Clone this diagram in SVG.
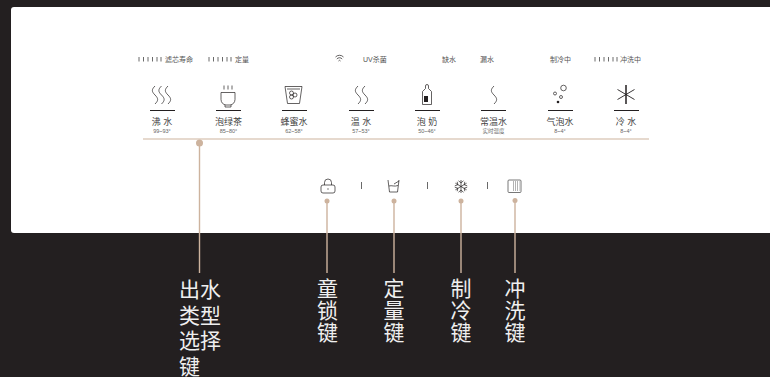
<svg xmlns="http://www.w3.org/2000/svg" width="770" height="377" viewBox="0 0 770 377">
<style>
text{font-family:"Liberation Sans","Noto Sans CJK SC",sans-serif;fill:#231f20}
.st{font-size:7px;fill:#555}
.nm{font-size:9px;text-anchor:middle;fill:#444}
.tp{font-size:5.500px;text-anchor:middle;fill:#666}
.big{font-size:21px;fill:#f2f2f2;font-family:"Noto Sans CJK SC",sans-serif;opacity:.99}
.mid{text-anchor:middle}
.ln{fill:none;stroke:#231f20;stroke-width:.7}
.ul{stroke:#231f20;stroke-width:1}
.tick{stroke:#444;stroke-width:.8}
.c{stroke:#cdb39e;stroke-width:1.400;fill:none}
.h{stroke:#cdb39e;stroke-width:1.100;fill:none}
.d{fill:#cdb39e}
</style>
<defs>
<path id="w" d="M0 0c-3.500 3.500-3.500 5.500 0 9s3.500 5.500 0 9" class="ln"/>
<g id="bars" class="tick"><path d="M0 0v4.500M4.500 0v4.500M9 0v4.500M13.500 0v4.500M18 0v4.500M22 0v4.500"/></g>
</defs>
<rect width="770" height="377" fill="#231f20"/>
<rect x="11" y="7" width="765" height="226" rx="3" fill="#fff"/>

<g id="status">
<use href="#bars" x="139" y="57"/><text class="st" x="165" y="61.500">滤芯寿命</text>
<use href="#bars" x="209" y="57"/><text class="st" x="235" y="61.500">定量</text>
<g id="wifi" class="ln"><path d="M335.500 57a5.500 5.500 0 0 1 8 0M336.800 59a3.500 3.500 0 0 1 5.400 0M338.500 61a1.200 1.200 0 0 1 2 0"/></g>
<text class="st" x="363" y="61.500">UV杀菌</text>
<text class="st" x="442" y="61.500">缺水</text>
<text class="st" x="480" y="61.500">漏水</text>
<text class="st" x="550" y="61.500">制冷中</text>
<use href="#bars" x="595" y="57"/><text class="st" x="620" y="61.500">冲洗中</text>
</g>

<g id="node-boil">
<use href="#w" x="155" y="86"/><use href="#w" x="161.500" y="86"/><use href="#w" x="168" y="86"/>
<path class="ul" d="M150 110.500h25"/>
<text class="nm" x="162" y="125">沸 水</text><text class="tp" x="162" y="133">99~93°</text>
</g>
<g id="node-tea">
<path class="ln" d="M221 92.500h14v7a6 6 0 0 1-5 5.500h-4a6 6 0 0 1-5-5.500zM225 105v2h6v-2M224 85.500v4M228 85.500v4M232 85.500v4"/>
<path class="ul" d="M216 110.500h25"/>
<text class="nm" x="228.500" y="125">泡绿茶</text><text class="tp" x="228.500" y="133">85~80°</text>
</g>
<g id="node-honey">
<path class="ln" d="M285 86.500h17l-2.500 17h-12zM287 89h13"/>
<circle class="ln" cx="291.500" cy="93" r="2"/><circle class="ln" cx="291.500" cy="97" r="2"/><circle class="ln" cx="295" cy="95" r="2"/>
<path class="ul" d="M282 110.500h25"/>
<text class="nm" x="294" y="125">蜂蜜水</text><text class="tp" x="294" y="133">62~58°</text>
</g>
<g id="node-warm">
<use href="#w" x="358" y="86"/><use href="#w" x="365" y="86"/>
<path class="ul" d="M349 110.500h25"/>
<text class="nm" x="361" y="125">温 水</text><text class="tp" x="361" y="133">57~53°</text>
</g>
<g id="node-milk">
<path class="ln" d="M425.500 86a1.500 1.500 0 0 1 3 0v2.500l3 3v13h-9v-13l3-3z"/><rect x="424" y="96" width="4" height="6" fill="#231f20"/>
<path class="ul" d="M415 110.500h25"/>
<text class="nm" x="427" y="125">泡 奶</text><text class="tp" x="427" y="133">50~46°</text>
</g>
<g id="node-room">
<use href="#w" x="494" y="86"/>
<path class="ul" d="M481 110.500h25"/>
<text class="nm" x="493.500" y="125">常温水</text><text class="tp" x="493.500" y="132.500">实时温度</text>
</g>
<g id="node-sparkling">
<circle class="ln" cx="563.500" cy="88" r="2.800"/><circle class="ln" cx="555" cy="93.500" r="1.500"/><circle class="ln" cx="561" cy="97" r="1.500"/><circle cx="558" cy="102" r="1.300" fill="#231f20"/>
<path class="ul" d="M548 110.500h25"/>
<text class="nm" x="560" y="125">气泡水</text><text class="tp" x="560" y="133">8~4°</text>
</g>
<g id="node-cold">
<path d="M617.500 89.500l17 10M617.500 99.500l17-10" fill="none" stroke="#231f20" stroke-width=".9"/><path d="M626 85v19" stroke="#231f20" stroke-width="1.500"/>
<path class="ul" d="M614 110.500h25"/>
<text class="nm" x="626" y="125">冷 水</text><text class="tp" x="626" y="133">8~4°</text>
</g>

<g id="node-lock"><path class="ln" d="M324.500 185v-2.500a3.500 3.500 0 0 1 7 0v2.500M323 185h10a2 2 0 0 1 2 2v4a2 2 0 0 1-2 2h-10a2 2 0 0 1-2-2v-4a2 2 0 0 1 2-2z"/><circle cx="328" cy="189" r=".7" fill="#555"/></g>
<g id="node-quantity"><path class="ln" d="M388 180l1.500 12h8l1.500-12M389 186c3-1 5 1 9-.5M394 184l5-3"/></g>
<g id="node-freeze"><path class="ln" d="M461 180v13M455.400 183.200l11.200 6.600M455.400 189.800l11.200-6.600M458.500 180.800l2.500 2 2.500-2M458.500 192.200l2.500-2 2.500 2M454.800 185.800l3 -1-.6-3M467.200 187.200l-3 1 .6 3M454.800 187.200l3 1-.6 3M467.200 185.800l-3-1 .6-3"/></g>
<g id="node-flush"><rect x="508" y="180" width="13" height="12.500" rx="1" fill="none" stroke="#555" stroke-width=".8"/><path d="M513 182h6.500M513 184h6.500M513 186h6.500M513 188h6.500M513 190h6.500" stroke="#666" stroke-width="1" stroke-dasharray="1 1"/></g>
<g id="seps" class="tick"><path d="M361.500 182v7M427.500 182v7M487.500 182v7"/></g>

<g id="connectors">
<path class="h" d="M143 139h506"/>
<path class="c" d="M199.500 143v130M327 201v72M394 201v72M461 201v72M515 200v73"/>
<circle class="d" cx="199.500" cy="143" r="3.500"/><circle class="d" cx="327" cy="201" r="2.500"/><circle class="d" cx="394" cy="201" r="2.500"/><circle class="d" cx="461" cy="201" r="2.500"/><circle class="d" cx="515" cy="200.500" r="2.500"/>
</g>

<g id="label-type">
<text class="big" x="179" y="297">出水<tspan x="179" dy="25.500">类型</tspan><tspan x="179" dy="25.500">选择</tspan><tspan x="179" dy="25.500">键</tspan></text>
</g>
<g id="label-lock"><text class="big mid" x="327.500" y="296">童<tspan x="327.500" dy="22">锁</tspan><tspan x="327.500" dy="22">键</tspan></text></g>
<g id="label-quantity"><text class="big mid" x="394" y="296">定<tspan x="394" dy="22">量</tspan><tspan x="394" dy="22">键</tspan></text></g>
<g id="label-freeze"><text class="big mid" x="461" y="296">制<tspan x="461" dy="22">冷</tspan><tspan x="461" dy="22">键</tspan></text></g>
<g id="label-flush"><text class="big mid" x="515" y="296">冲<tspan x="515" dy="22">洗</tspan><tspan x="515" dy="22">键</tspan></text></g>
</svg>
